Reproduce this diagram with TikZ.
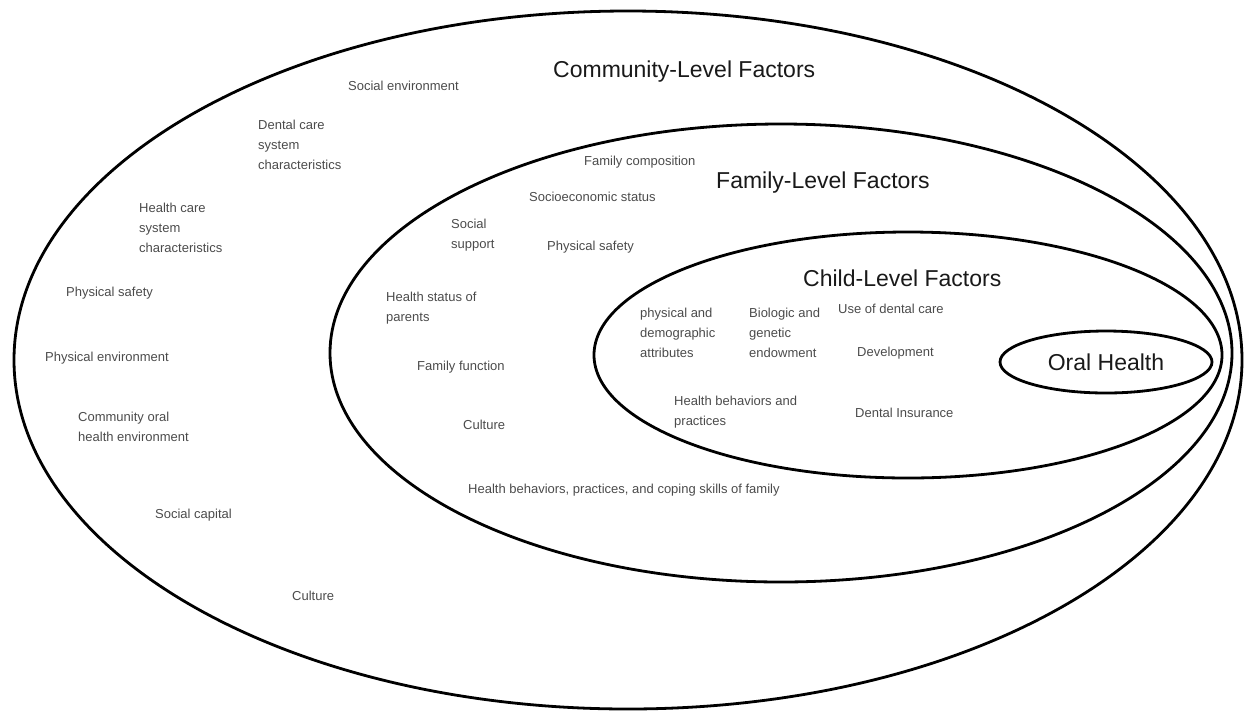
\documentclass[tikz,border=0pt]{standalone}
\usepackage{fontspec}
\setmainfont{Liberation Sans}
\usepackage{xcolor}
\definecolor{factor}{RGB}{75,75,75}
\definecolor{level}{RGB}{25,25,25}

\begin{document}
\begin{tikzpicture}[x=1pt, y=-1pt,
    ring/.style={draw=black, line width=2.8pt},
    item/.style={anchor=west, align=left, inner sep=0pt, text=factor,
        font=\fontsize{13}{20}\selectfont},
    heading/.style={anchor=west, inner sep=0pt, text=level,
        font=\fontsize{23}{27}\selectfont}]

\useasboundingbox (0,0) rectangle (1244,713);

% Rings
\draw[ring] (628,360) ellipse [x radius=614pt, y radius=349pt];
\draw[ring] (781,353) ellipse [x radius=451pt, y radius=229pt];
\draw[ring] (908,355) ellipse [x radius=314pt, y radius=123pt];
\draw[ring] (1106,362) ellipse [x radius=106pt, y radius=31pt];

% Community level
\node[heading] (community) at (553,72) {Community-Level Factors};
\node[item] (socenv) at (348,86) {Social environment};
\node[item] (dentalsys) at (258,145) {Dental care\\system\\characteristics};
\node[item] (healthsys) at (139,228) {Health care\\system\\characteristics};
\node[item] (cphys) at (66,293) {Physical safety};
\node[item] (physenv) at (45,358) {Physical environment};
\node[item] (oralenv) at (78,427) {Community oral\\health environment};
\node[item] (capital) at (155,515) {Social capital};
\node[item] (cculture) at (292,596) {Culture};

% Family level
\node[heading] (family) at (716,183) {Family-Level Factors};
\node[item] (composition) at (584,162) {Family composition};
\node[item] (ses) at (529,197) {Socioeconomic status};
\node[item] (support) at (451,235) {Social\\support};
\node[item] (fphys) at (547,247) {Physical safety};
\node[item] (parents) at (386,308) {Health status of\\parents};
\node[item] (function) at (417,367) {Family function};
\node[item] (fculture) at (463,425) {Culture};
\node[item] (coping) at (468,490) {Health behaviors, practices, and coping skills of family};

% Child level
\node[heading] (child) at (803,278) {Child-Level Factors};
\node[item] (attributes) at (640,333) {physical and\\demographic\\attributes};
\node[item] (genetic) at (749,333) {Biologic and\\genetic\\endowment};
\node[item] (usecare) at (838,309) {Use of dental care};
\node[item] (develop) at (857,353) {Development};
\node[item] (practices) at (674,412) {Health behaviors and\\practices};
\node[item] (insurance) at (855,413) {Dental Insurance};

% Outcome
\node[heading, anchor=center] (oral) at (1106,362) {Oral Health};

\end{tikzpicture}
\end{document}
